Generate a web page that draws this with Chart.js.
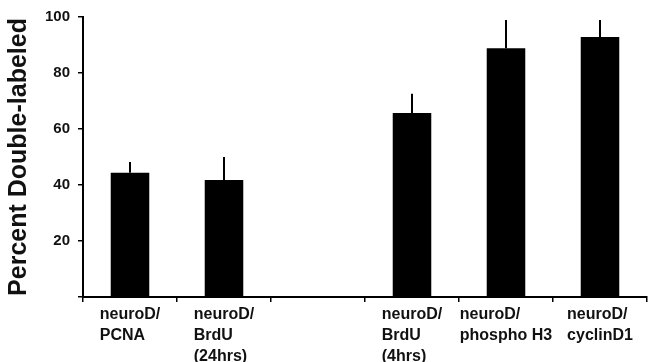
<!DOCTYPE html>
<html lang="en">
<head>
<meta charset="UTF-8" />
<title>Percent Double-labeled</title>
<script src="https://cdn.jsdelivr.net/npm/chart.js@4.4.0/dist/chart.umd.min.js"></script>
<style>
  html, body { margin: 0; padding: 0; background: #fff; }
</style>
</head>
<body>
<canvas id="chart" width="650" height="362"></canvas>
<script>
// categories (multi-line labels); the third slot is the empty gap
const categories = [
  ['neuroD/', 'PCNA'],
  ['neuroD/', 'BrdU', '(24hrs)'],
  [''],
  ['neuroD/', 'BrdU', '(4hrs)'],
  ['neuroD/', 'phospho H3'],
  ['neuroD/', 'cyclinD1']
];
const percent  = [44.4, 41.8, null, 65.7, 88.8, 92.9];
const errorTop = [48.2, 50.0, null, 72.6, 98.9, 98.9];
const yTicks = [0, 20, 40, 60, 80, 100];

const FONT = "'Liberation Sans', Arial, Helvetica, sans-serif";

// upward-only error bars, no caps
const errorBars = {
  id: 'errorBars',
  afterDatasetsDraw(chart) {
    const ctx = chart.ctx;
    const y = chart.scales.y;
    const meta = chart.getDatasetMeta(0);
    ctx.save();
    ctx.strokeStyle = '#000';
    ctx.lineWidth = 2;
    percent.forEach((v, i) => {
      if (v == null) return;
      const x = meta.data[i].x;
      ctx.beginPath();
      ctx.moveTo(x, y.getPixelForValue(v));
      ctx.lineTo(x, y.getPixelForValue(errorTop[i]));
      ctx.stroke();
    });
    ctx.restore();
  }
};

// x labels: left-aligned lines, block centred under each bar
const blockLabels = {
  id: 'blockLabels',
  afterDraw(chart) {
    const ctx = chart.ctx;
    const xs = chart.scales.x;
    ctx.save();
    ctx.font = 'bold 16px ' + FONT;
    ctx.fillStyle = '#111';
    ctx.textAlign = 'left';
    ctx.textBaseline = 'middle';
    categories.forEach((lines, i) => {
      const w = Math.max(...lines.map(l => ctx.measureText(l).width));
      const left = xs.getPixelForValue(i) - w / 2;
      lines.forEach((l, j) => ctx.fillText(l, left, xs.top + 18 + j * 21));
    });
    ctx.restore();
  }
};

new Chart(document.getElementById('chart'), {
  type: 'bar',
  data: {
    labels: categories,
    datasets: [{
      data: percent,
      backgroundColor: '#000',
      borderWidth: 0,
      barPercentage: 0.41,
      categoryPercentage: 1
    }]
  },
  options: {
    responsive: false,
    animation: false,
    devicePixelRatio: 1,
    layout: { padding: { top: 17, right: 3, left: 0, bottom: 0 } },
    plugins: { legend: { display: false }, tooltip: { enabled: false } },
    scales: {
      x: {
        afterFit: s => { s.height = 65; },
        ticks: { display: false },
        grid: {
          offset: true,
          drawOnChartArea: false,
          drawTicks: true,
          tickLength: 5,
          color: '#000',
          lineWidth: 1.5
        },
        border: { display: true, color: '#000', width: 2 }
      },
      y: {
        min: 0,
        max: 100,
        afterFit: s => { s.width = 83; },
        afterBuildTicks: s => { s.ticks = yTicks.map(v => ({ value: v })); },
        ticks: {
          padding: 8,
          color: '#111',
          font: { family: FONT, size: 15, weight: 'bold' },
          callback: v => (v === 0 ? '' : v)
        },
        grid: {
          drawOnChartArea: false,
          drawTicks: true,
          tickLength: 5,
          color: '#000',
          lineWidth: 1.5
        },
        border: { display: true, color: '#000', width: 2 },
        title: {
          display: true,
          text: 'Percent Double-labeled',
          color: '#111',
          font: { family: FONT, size: 25, weight: 'bold' },
          padding: { top: 4, bottom: 0 }
        }
      }
    }
  },
  plugins: [errorBars, blockLabels]
});
</script>
</body>
</html>
